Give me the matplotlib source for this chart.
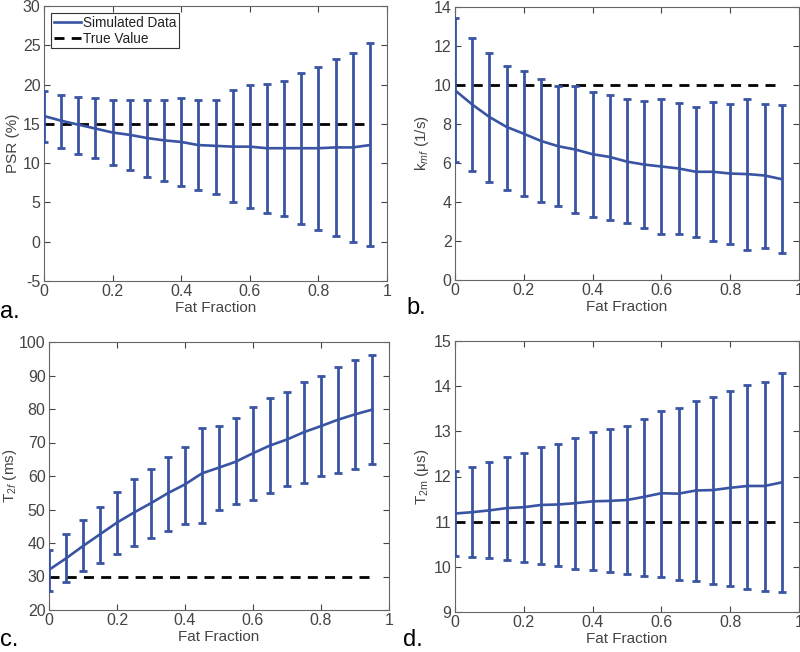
import numpy as np
import matplotlib
matplotlib.use('Agg')
import matplotlib.pyplot as plt
from matplotlib.lines import Line2D

plt.rcParams['font.family'] = ['Liberation Sans', 'DejaVu Sans']
plt.rcParams['mathtext.fontset'] = 'custom'
plt.rcParams['mathtext.rm'] = 'Liberation Sans'
plt.rcParams['mathtext.it'] = 'Liberation Sans:italic'

fat_fraction = [0.0, 0.05, 0.1, 0.15, 0.2, 0.25, 0.3, 0.35, 0.4, 0.45,
                0.5, 0.55, 0.6, 0.65, 0.7, 0.75, 0.8, 0.85, 0.9, 0.95]

# a. PSR (%)
psr_mean = [16.0, 15.4, 14.9, 14.4, 13.9, 13.6, 13.2, 12.9, 12.7, 12.3,
            12.2, 12.1, 12.1, 11.9, 11.9, 11.9, 11.9, 12.0, 12.0, 12.3]
psr_hi = [19.2, 18.7, 18.4, 18.3, 18.1, 18.1, 18.1, 18.1, 18.3, 18.0,
          18.1, 19.3, 19.9, 20.1, 20.4, 21.5, 22.3, 23.2, 24.0, 25.3]
psr_lo = [12.7, 11.9, 11.2, 10.6, 9.8, 9.1, 8.3, 7.7, 7.1, 6.6,
          6.1, 5.0, 4.3, 3.7, 3.3, 2.3, 1.5, 0.7, 0.0, -0.6]
psr_true = 15

# b. kmf (1/s)
kmf_mean = [9.73, 9.0, 8.36, 7.85, 7.5, 7.13, 6.86, 6.69, 6.45, 6.31,
            6.07, 5.92, 5.82, 5.72, 5.55, 5.55, 5.46, 5.43, 5.36, 5.17]
kmf_hi = [13.45, 12.4, 11.65, 11.0, 10.73, 10.3, 9.93, 9.93, 9.66, 9.49,
          9.28, 9.16, 9.3, 9.1, 8.86, 9.13, 9.03, 9.28, 9.04, 8.99]
kmf_lo = [6.04, 5.6, 5.03, 4.6, 4.3, 4.0, 3.77, 3.46, 3.22, 3.07,
          2.94, 2.68, 2.34, 2.34, 2.22, 2.0, 1.86, 1.55, 1.64, 1.38]
kmf_true = 10

# c. T2f (ms)
t2f_mean = [32.0, 35.4, 39.1, 42.6, 46.1, 49.1, 51.9, 54.9, 57.5, 60.8,
            62.5, 64.3, 66.8, 69.1, 70.9, 73.1, 74.9, 76.8, 78.4, 79.8]
t2f_hi = [37.9, 42.7, 46.8, 50.8, 55.1, 59.0, 62.0, 65.7, 68.8, 74.3,
          75.0, 77.3, 80.6, 83.2, 85.0, 88.1, 89.8, 92.6, 94.6, 96.2]
t2f_lo = [25.6, 28.5, 31.5, 34.1, 36.8, 39.1, 41.5, 43.6, 45.6, 46.1,
          49.9, 51.5, 52.7, 54.9, 56.9, 57.8, 59.9, 60.8, 62.2, 63.5]
t2f_true = 30

# d. T2m (us)
t2m_mean = [11.18, 11.21, 11.25, 11.3, 11.32, 11.37, 11.38, 11.41, 11.45, 11.46,
            11.48, 11.55, 11.63, 11.62, 11.69, 11.7, 11.75, 11.79, 11.79, 11.87]
t2m_hi = [12.12, 12.2, 12.31, 12.43, 12.52, 12.66, 12.73, 12.85, 12.99, 13.05,
          13.12, 13.28, 13.46, 13.52, 13.67, 13.77, 13.9, 14.03, 14.1, 14.3]
t2m_lo = [10.24, 10.21, 10.19, 10.16, 10.1, 10.07, 10.02, 9.96, 9.92, 9.89,
          9.84, 9.8, 9.78, 9.7, 9.69, 9.61, 9.57, 9.52, 9.46, 9.44]
t2m_true = 11

blue = '#3a54a4'
grey = '#444444'
true_dashes = (3.6, 2.6)

fig = plt.figure(figsize=(8, 6.52), dpi=100)
W, H = 800, 652


def make_axes(x0, x1, ytop, ybot):
    return fig.add_axes([x0 / W, 1 - ybot / H, (x1 - x0) / W, (ybot - ytop) / H])


panels = [
    (make_axes(44, 387, 6, 281), psr_mean, psr_lo, psr_hi, psr_true,
     (-5, 30), np.arange(-5, 31, 5), 'PSR (%)', 2),
    (make_axes(455, 799, 7, 280), kmf_mean, kmf_lo, kmf_hi, kmf_true,
     (0, 14), np.arange(0, 15, 2), r'k$_{\mathit{mf}}$ (1/s)', 2),
    (make_axes(49, 389, 342, 610), t2f_mean, t2f_lo, t2f_hi, t2f_true,
     (20, 100), np.arange(20, 101, 10), r'T$_{\mathit{2f}}$ (ms)', 0),
    (make_axes(455, 799, 341, 612), t2m_mean, t2m_lo, t2m_hi, t2m_true,
     (9, 15), np.arange(9, 16, 1), r'T$_{\mathrm{2m}}$ ($\mathrm{\mu}$s)', 2),
]

for i, (ax, mean, lo, hi, true, ylim, yticks, ylabel, lpad) in enumerate(panels):
    m = np.array(mean)
    yerr = [m - np.array(lo), np.array(hi) - m]
    ax.errorbar(fat_fraction, mean, yerr=yerr, color=blue, lw=1.9,
                elinewidth=2.0, capsize=3, capthick=2.0, zorder=3)
    ax.plot([fat_fraction[0], fat_fraction[-1]], [true, true], color='black',
            lw=2.0, dashes=true_dashes, zorder=2)
    ax.set_xlim(0, 1)
    ax.set_ylim(*ylim)
    ax.set_xticks([0, 0.2, 0.4, 0.6, 0.8, 1])
    ax.set_xticklabels(['0', '0.2', '0.4', '0.6', '0.8', '1'])
    ax.set_yticks(yticks)
    ax.set_yticklabels([f'{v:g}' for v in yticks])
    ax.tick_params(direction='in', length=4, width=0.8, top=True, right=True,
                   labelsize=11.5, colors=grey, pad=2.5)
    for sp in ax.spines.values():
        sp.set_color('#666666')
        sp.set_linewidth(0.8)
    ax.set_xlabel('Fat Fraction', fontsize=11, color=grey, labelpad=1)
    ax.set_ylabel(ylabel, fontsize=11, color=grey, labelpad=lpad)
    if i == 0:
        handles = [Line2D([], [], color=blue, lw=1.9),
                   Line2D([], [], color='black', lw=2.0, dashes=true_dashes)]
        leg = ax.legend(handles, ['Simulated Data', 'True Value'],
                        loc='upper left', fontsize=9.8, handlelength=2.0,
                        handletextpad=0.1, borderpad=0.2, labelspacing=0.1,
                        borderaxespad=0.55, fancybox=False, framealpha=1)
        leg.get_frame().set_edgecolor('#333333')
        leg.get_frame().set_linewidth(0.8)
        for t in leg.get_texts():
            t.set_color('#222222')

fig.text(0 / W, 1 - 312 / H, 'a.', fontsize=17, va='center', ha='left')
fig.text(406 / W, 1 - 308 / H, 'b.', fontsize=17, va='center', ha='left')
fig.text(0 / W, 1 - 640 / H, 'c.', fontsize=17, va='center', ha='left')
fig.text(403 / W, 1 - 640 / H, 'd.', fontsize=17, va='center', ha='left')

fig.savefig('out.png', dpi=100)
